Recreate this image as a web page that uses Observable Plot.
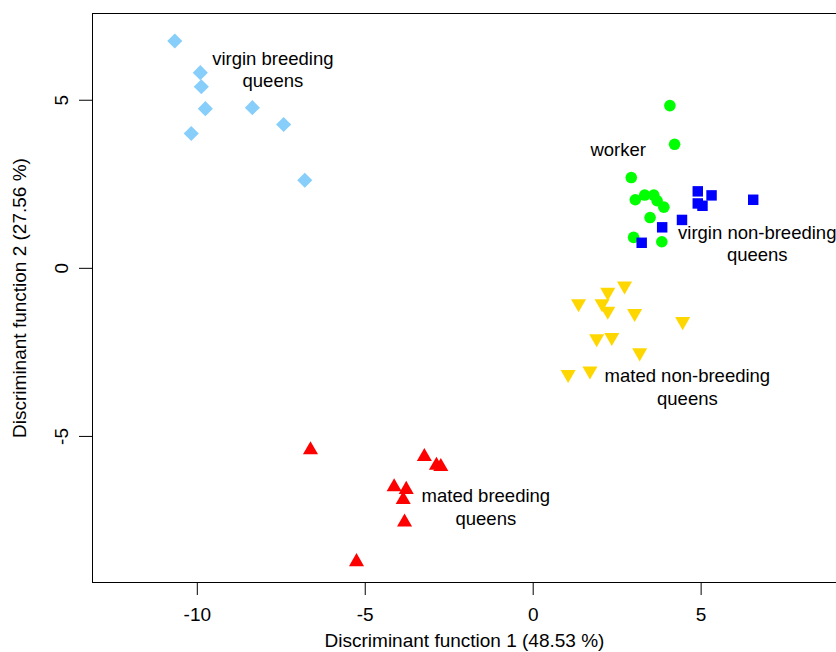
<!DOCTYPE html>
<html>
<head>
<meta charset="utf-8">
<script src="https://cdn.jsdelivr.net/npm/d3@7"></script>
<script src="https://cdn.jsdelivr.net/npm/@observablehq/plot@0.6"></script>
<style>
  html, body { margin: 0; padding: 0; background: #fff; }
  #chart svg { display: block; }
</style>
</head>
<body>
<div id="chart"></div>
<script>
// virgin breeding queens (light blue diamonds)
const vbX = [-10.67, -9.91, -9.88, -9.76, -10.18, -8.36, -7.43, -6.80];
const vbY = [6.76, 5.82, 5.40, 4.75, 4.01, 4.78, 4.28, 2.62];
// workers (green circles)
const wX = [4.07, 4.21, 2.92, 3.04, 3.32, 3.59, 3.69, 3.89, 3.48, 2.99, 3.83];
const wY = [4.84, 3.69, 2.70, 2.04, 2.18, 2.18, 2.01, 1.82, 1.51, 0.92, 0.79];
// virgin non-breeding queens (blue squares)
const vnbX = [4.90, 5.31, 4.90, 5.04, 6.55, 4.43, 3.84, 3.23];
const vnbY = [2.29, 2.17, 1.93, 1.86, 2.04, 1.44, 1.22, 0.76];
// mated non-breeding queens (gold down-triangles)
const mnbX = [2.72, 2.22, 1.35, 2.05, 2.22, 3.02, 4.45, 1.89, 2.34, 3.17, 1.04, 1.69];
const mnbY = [-0.52, -0.71, -1.05, -1.05, -1.27, -1.34, -1.58, -2.09, -2.05, -2.51, -3.15, -3.05];
// mated breeding queens (red up-triangles)
const mbX = [-6.63, -3.24, -2.88, -2.75, -4.14, -3.78, -3.87, -3.83, -5.26];
const mbY = [-5.40, -5.60, -5.86, -5.90, -6.50, -6.58, -6.88, -7.55, -8.73];

// group labels
const labelText = ["virgin breeding\nqueens", "worker", "virgin non-breeding\nqueens", "mated non-breeding\nqueens", "mated breeding\nqueens"];
const labelX = [-7.75, 2.53, 6.67, 4.59, -1.41];
const labelY = [5.93, 3.56, 0.756, -3.51, -7.08];

// axes
const xTicks = [-10, -5, 0, 5];
const yTicks = [-5, 0, 5];
const xTitle = "Discriminant function 1 (48.53 %)";
const yTitle = "Discriminant function 2 (27.56 %)";
const xDomain = [-13.12, 9.03];
const yDomain = [-9.345, 7.58];

const rows = (xs, ys) => xs.map((x, i) => ({x, y: ys[i]}));
const labels = labelText.map((t, i) => ({t, x: labelX[i], y: labelY[i]}));

const font = "'Liberation Sans', Arial, Helvetica, sans-serif";

const chart = Plot.plot({
  width: 836,
  height: 652,
  marginLeft: 92,
  marginRight: 0,
  marginTop: 13,
  marginBottom: 70,
  x: {domain: xDomain},
  y: {domain: yDomain},
  style: {fontFamily: font, fontSize: "19px", color: "black", background: "white", overflow: "visible"},
  marks: [
    Plot.ruleX([xDomain[0]], {stroke: "black"}),
    Plot.ruleY(yDomain, {stroke: "black"}),
    Plot.axisX({ticks: xTicks, tickSize: 13, tickPadding: 12, tickFormat: d => String(d), fontSize: 19,
      label: xTitle, labelAnchor: "center", labelOffset: 64, labelArrow: "none"}),
    Plot.axisY({ticks: yTicks, tickSize: 13, tickPadding: 12, tickRotate: -90, tickFormat: d => String(d), fontSize: 19,
      label: yTitle, labelAnchor: "center", labelOffset: 80, labelArrow: "none"}),
    Plot.dot(rows(vbX, vbY), {x: "x", y: "y", symbol: "diamond2", r: 6.8, fill: "#87CEFA", stroke: "none"}),
    Plot.dot(rows(wX, wY), {x: "x", y: "y", symbol: "circle", r: 5.8, fill: "#00FF00", stroke: "none"}),
    Plot.dot(rows(vnbX, vnbY), {x: "x", y: "y", symbol: "square", r: 5.9, fill: "#0000FF", stroke: "none"}),
    Plot.dot(rows(mnbX, mnbY), {x: "x", y: "y", symbol: "triangle", r: 5.6, rotate: 180, fill: "#FFD700", stroke: "none"}),
    Plot.dot(rows(mbX, mbY), {x: "x", y: "y", symbol: "triangle", r: 5.6, fill: "#FF0000", stroke: "none"}),
    Plot.text(labels, {x: "x", y: "y", text: "t", fontSize: 18.5, lineHeight: 1.2, textAnchor: "middle", fill: "black"})
  ]
});

document.getElementById("chart").appendChild(chart);
</script>
</body>
</html>
